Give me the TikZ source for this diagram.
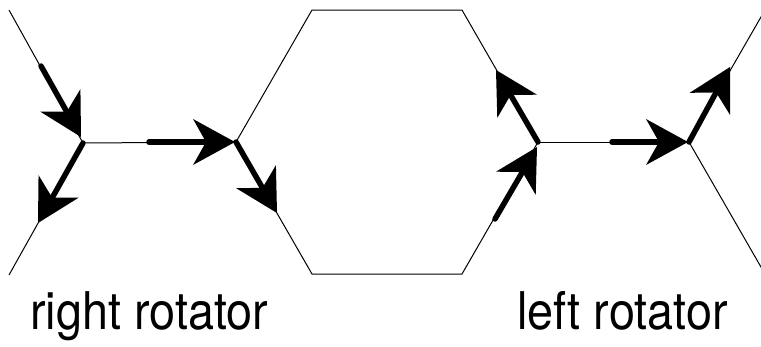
\documentclass[tikz,border=0pt]{standalone}
\usepackage{fontspec}
\setmainfont{TeX Gyre Heros}
\usetikzlibrary{arrows.meta}
\begin{document}
\begin{tikzpicture}[x=1pt,y=-1pt,
  thin line/.style={line width=1pt},
  flow/.style={line width=5.5pt, line cap=round,
    -{Stealth[length=42pt,width=46pt,inset=13pt,line width=0pt]}},
  lbl/.style={anchor=base west, inner sep=0pt, font=\fontsize{52}{60}\selectfont}]
\useasboundingbox (0,0) rectangle (761,346);
\clip (0,0) rectangle (761,346);
% vertices
\coordinate (A) at (83,143);
\coordinate (L1) at (9,10);
\coordinate (L2) at (9,275);
\coordinate (B) at (236,142);
\coordinate (T1) at (312,10);
\coordinate (T2) at (462,10);
\coordinate (C) at (538,142);
\coordinate (D2) at (462,274);
\coordinate (D1) at (312,274);
\coordinate (E) at (689,142);
\coordinate (R1) at (765,10);
\coordinate (R2) at (765,274);
% thin lattice
\draw[thin line] (L1) -- (A) -- (L2);
\draw[thin line] (A) -- (B);
\draw[thin line] (B) -- (T1) -- (T2) -- (C) -- (D2) -- (D1) -- cycle;
\draw[thin line] (C) -- (E);
\draw[thin line] (R1) -- (E) -- (R2);
% arrow end points
\coordinate (a1s) at (41,66);  \coordinate (a1e) at (81,137);
\coordinate (a2e) at (38,223);
\coordinate (a3s) at (149,142); \coordinate (a3e) at (235,142);
\coordinate (a4e) at (277,213);
\coordinate (a5e) at (496,70);
\coordinate (a6s) at (495,219); \coordinate (a6e) at (537,147);
\coordinate (a7s) at (612,142); \coordinate (a7e) at (688,142);
\coordinate (a8e) at (730,67);
% thick arrows
\draw[flow] (a1s) -- (a1e);
\draw[flow] (A) -- (a2e);
\draw[flow] (a3s) -- (a3e);
\draw[flow] (B) -- (a4e);
\draw[flow] (C) -- (a5e);
\draw[flow] (a6s) -- (a6e);
\draw[flow] (a7s) -- (a7e);
\draw[flow] (E) -- (a8e);
% labels
\node[lbl] (rr) at (30,329) {\scalebox{0.9}[1]{right rotator}};
\node[lbl] (lr) at (517,329) {\scalebox{0.9}[1]{left rotator}};
\end{tikzpicture}
\end{document}
